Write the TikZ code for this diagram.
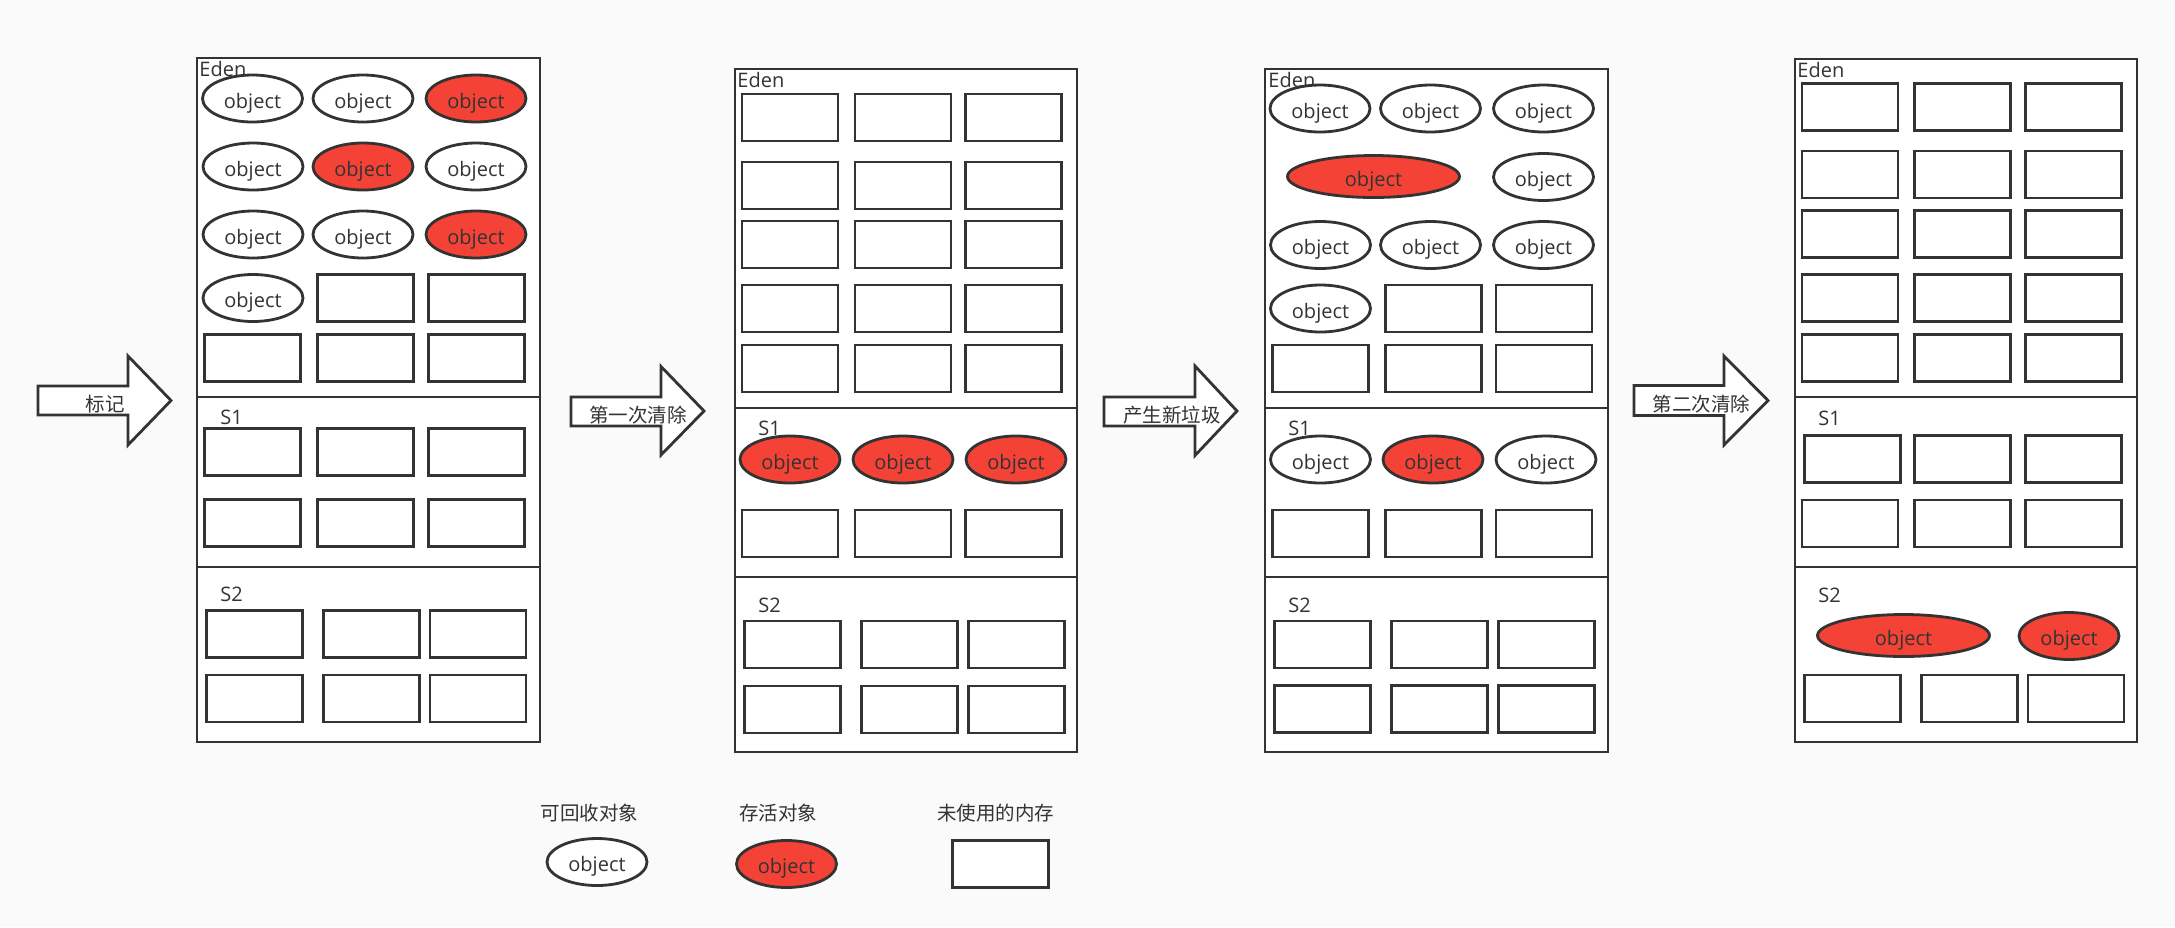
\documentclass[tikz,border=0pt]{standalone}
\usepackage{fontspec}
\setmainfont{Open Sans}
\newfontfamily\cjk{Noto Sans CJK SC}
\usetikzlibrary{shapes.geometric}
\definecolor{ink}{HTML}{333333}
\definecolor{live}{HTML}{F44336}
\definecolor{bg}{HTML}{FAFAFA}
\begin{document}
\begin{tikzpicture}[x=0.5pt,y=-0.5pt,
  every node/.style={text=ink, font=\fontsize{10pt}{12pt}\selectfont},
  blk/.style={draw=ink, line width=1.4pt, fill=white, minimum width=48pt, minimum height=23.5pt, inner sep=0pt},
  gobj/.style={ellipse, draw=ink, line width=1.4pt, fill=white, minimum width=50pt, minimum height=23.5pt, inner sep=0pt, text height=9.8pt, text depth=0pt},
  lobj/.style={gobj, fill=live},
  wide/.style={minimum width=86pt, minimum height=21pt},
  panel/.style={draw=ink, line width=1.4pt, fill=white},
  divider/.style={draw=ink, line width=1.4pt},
  lbl/.style={anchor=base west, inner sep=0pt},
  cjklbl/.style={anchor=base, inner sep=0pt, font=\cjk\fontsize{9.75pt}{12pt}\selectfont},
  bigarrow/.style={draw=ink, line width=1.4pt, fill=white, line join=miter},
  ]
\fill[bg] (0,0) rectangle (2175,927);
\useasboundingbox (0,0) rectangle (2175,927);

% ---------------- arrows ----------------
\draw[bigarrow] (38,386) -- (128,386) -- (128,356) -- (171,400.5) -- (128,445) -- (128,415) -- (38,415) -- cycle;
\node[cjklbl] (t1) at (105,411) {标记};
\draw[bigarrow] (571,397) -- (661,397) -- (661,366.5) -- (704,411) -- (661,455) -- (661,426) -- (571,426) -- cycle;
\node[cjklbl] (t2) at (638,422) {第一次清除};
\draw[bigarrow] (1104,397) -- (1195,397) -- (1195,366) -- (1237,411) -- (1195,455.5) -- (1195,426) -- (1104,426) -- cycle;
\node[cjklbl] (t3) at (1172,422) {产生新垃圾};
\draw[bigarrow] (1634,385.5) -- (1724,385.5) -- (1724,356) -- (1768,400.5) -- (1724,445) -- (1724,415.5) -- (1634,415.5) -- cycle;
\node[cjklbl] (t4) at (1701.5,411) {第二次清除};

% ---------------- panel 1 ----------------
\draw[panel] (197,58) rectangle (540,742);
\draw[divider] (197,397) -- (540,397);
\draw[divider] (197,567) -- (540,567);
\node[lbl] (p1eden) at (199,76) {Eden};
\node[gobj] (p1a1) at (252.5,98.5) {object};
\node[gobj] (p1a2) at (363,98.5) {object};
\node[lobj] (p1a3) at (476,98.5) {object};
\node[gobj] (p1b1) at (253,166.5) {object};
\node[lobj] (p1b2) at (363,166.5) {object};
\node[gobj] (p1b3) at (476,166.5) {object};
\node[gobj] (p1c1) at (253,234.5) {object};
\node[gobj] (p1c2) at (363,234.5) {object};
\node[lobj] (p1c3) at (476,234.5) {object};
\node[gobj] (p1d1) at (253,298) {object};
\node[blk] (p1d2) at (365.5,298) {};
\node[blk] (p1d3) at (476.5,298) {};
\foreach \x/\n in {252.5/1,365.5/2,476.5/3} \node[blk] (p1e\n) at (\x,358) {};
\node[lbl] (p1s1) at (220,424) {S1};
\foreach \x/\n in {252.5/1,365.5/2,476.5/3} {
  \node[blk] (p1f\n) at (\x,452) {};
  \node[blk] (p1g\n) at (\x,523) {};
}
\node[lbl] (p1s2) at (220,601) {S2};
\foreach \x/\n in {254.5/1,371.5/2,478/3} {
  \node[blk] (p1h\n) at (\x,634) {};
  \node[blk] (p1i\n) at (\x,698.5) {};
}

% ---------------- panel 2 ----------------
\draw[panel] (735,69) rectangle (1077,752);
\draw[divider] (735,408) -- (1077,408);
\draw[divider] (735,577) -- (1077,577);
\node[lbl] (p2eden) at (737,87) {Eden};
\foreach \y/\r in {117.5/a,185.5/b,244.5/c,308.5/d,368.5/e}
  \foreach \x/\n in {790/1,903/2,1013.5/3}
    \node[blk] (p2\r\n) at (\x,\y) {};
\node[lbl] (p2s1) at (758,435) {S1};
\node[lobj] (p2f1) at (790,459.5) {object};
\node[lobj] (p2f2) at (903,459.5) {object};
\node[lobj] (p2f3) at (1016,459.5) {object};
\foreach \x/\n in {790/1,903/2,1013.5/3} \node[blk] (p2g\n) at (\x,533.5) {};
\node[lbl] (p2s2) at (758,612) {S2};
\foreach \x/\n in {792.5/1,909.5/2,1016.5/3} {
  \node[blk] (p2h\n) at (\x,644.5) {};
  \node[blk] (p2i\n) at (\x,709.5) {};
}

% ---------------- panel 3 ----------------
\draw[panel] (1265,69) rectangle (1608,752);
\draw[divider] (1265,408) -- (1608,408);
\draw[divider] (1265,577) -- (1608,577);
\node[lbl] (p3eden) at (1268,87) {Eden};
\node[gobj] (p3a1) at (1320,108.5) {object};
\node[gobj] (p3a2) at (1430.5,108.5) {object};
\node[gobj] (p3a3) at (1543.5,108.5) {object};
\node[lobj,wide] (p3b1) at (1373.5,176.5) {object};
\node[gobj] (p3b3) at (1543.5,177) {object};
\node[gobj] (p3c1) at (1320.5,245) {object};
\node[gobj] (p3c2) at (1430.5,245) {object};
\node[gobj] (p3c3) at (1543.5,245) {object};
\node[gobj] (p3d1) at (1320.5,308.5) {object};
\node[blk] (p3d2) at (1433.5,308.5) {};
\node[blk] (p3d3) at (1544,308.5) {};
\foreach \x/\n in {1320.5/1,1433.5/2,1544/3} \node[blk] (p3e\n) at (\x,368.5) {};
\node[lbl] (p3s1) at (1288,435) {S1};
\node[gobj] (p3f1) at (1320.5,459.5) {object};
\node[lobj] (p3f2) at (1433,459.5) {object};
\node[gobj] (p3f3) at (1546,459.5) {object};
\foreach \x/\n in {1320.5/1,1433.5/2,1544/3} \node[blk] (p3g\n) at (\x,533.5) {};
\node[lbl] (p3s2) at (1288,612) {S2};
\foreach \x/\n in {1322.5/1,1439.5/2,1546.5/3} {
  \node[blk] (p3h\n) at (\x,644.5) {};
  \node[blk] (p3i\n) at (\x,709) {};
}

% ---------------- panel 4 ----------------
\draw[panel] (1795,59) rectangle (2137,742);
\draw[divider] (1795,397) -- (2137,397);
\draw[divider] (1795,567) -- (2137,567);
\node[lbl] (p4eden) at (1797,77) {Eden};
\foreach \y/\r in {107/a,174.5/b,234/c,298/d,358/e}
  \foreach \x/\n in {1850/1,1962.5/2,2073.5/3}
    \node[blk] (p4\r\n) at (\x,\y) {};
\node[lbl] (p4s1) at (1818,425) {S1};
\foreach \x/\n in {1852.5/1,1962.5/2,2073.5/3} \node[blk] (p4f\n) at (\x,459) {};
\foreach \x/\n in {1850/1,1962.5/2,2073.5/3} \node[blk] (p4g\n) at (\x,523.5) {};
\node[lbl] (p4s2) at (1818,602) {S2};
\node[lobj,wide] (p4h1) at (1903.5,635.5) {object};
\node[lobj] (p4h2) at (2069,636) {object};
\foreach \x/\n in {1852.5/1,1969.5/2,2076/3} \node[blk] (p4i\n) at (\x,698.5) {};

% ---------------- legend ----------------
\node[cjklbl] (lg1t) at (589.5,820) {可回收对象};
\node[gobj] (lg1) at (597,862) {object};
\node[cjklbl] (lg2t) at (778,820) {存活对象};
\node[lobj] (lg2) at (786.5,864) {object};
\node[cjklbl] (lg3t) at (995.5,820) {未使用的内存};
\node[blk] (lg3) at (1000.5,864) {};
\end{tikzpicture}
\end{document}
